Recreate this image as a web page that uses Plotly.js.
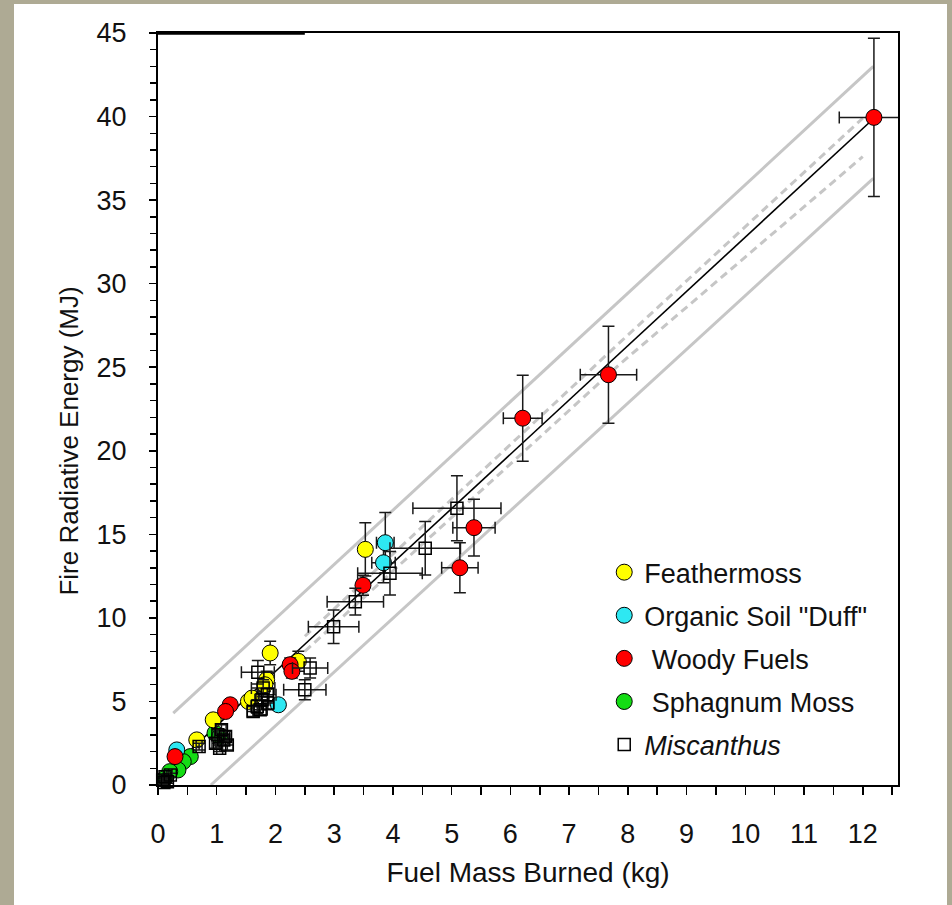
<!DOCTYPE html>
<html><head><meta charset="utf-8">
<script src="https://cdn.plot.ly/plotly-3.0.1.min.js"></script>
<style>
html,body{margin:0;padding:0;background:#aeaa94;width:952px;height:905px;overflow:hidden}
#chart{position:absolute;left:14px;top:4px;width:933px;height:901px;background:#fff}
</style></head><body><div id="chart"></div>
<script>
// ---- data (kg, MJ) ----
const featherX  = [3.53, 1.91, 2.39, 1.85, 1.82, 1.54, 1.60, 0.94, 0.66];
const featherY  = [14.1, 7.9, 7.4, 6.3, 6.0, 5.0, 5.2, 3.9, 2.7];
const featherXe = [0.05, 0.05, 0.05, 0.05, 0.05, 0.04, 0.04, 0.03, 0.03];
const featherYe = [1.6, 0.7, 0.6, 0.5, 0.4, 0.3, 0.3, 0.3, 0.2];

const duffX  = [3.87, 3.84, 2.05, 0.32];
const duffY  = [14.5, 13.3, 4.8, 2.1];
const duffXe = [0.15, 0.2, 0.05, 0.03];
const duffYe = [1.8, 1.2, 0.3, 0.2];

const woodyX  = [12.19, 7.67, 6.21, 5.38, 5.14, 3.49, 2.25, 2.28, 1.23, 1.15, 0.29];
const woodyY  = [39.95, 24.55, 21.95, 15.4, 13.0, 11.95, 7.2, 6.8, 4.8, 4.4, 1.7];
const woodyXe = [0.59, 0.48, 0.33, 0.36, 0.31, 0.1, 0.05, 0.05, 0.05, 0.05, 0.03];
const woodyYe = [4.74, 2.9, 2.57, 1.7, 1.5, 0.6, 0.4, 0.4, 0.3, 0.3, 0.2];

const sphagX  = [0.55, 0.43, 0.34, 0.20, 0.97, 1.05, 0.12];
const sphagY  = [1.7, 1.4, 0.9, 0.8, 3.1, 2.9, 0.4];
const sphagXe = [0.03, 0.03, 0.03, 0.03, 0.04, 0.04, 0.02];
const sphagYe = [0.15, 0.15, 0.1, 0.1, 0.2, 0.2, 0.1];

const miscX  = [5.09, 4.55, 3.95, 3.36, 2.99, 2.59, 2.50, 1.70, 1.79, 1.86, 1.77, 1.69, 1.62, 1.74, 1.87, 1.08, 1.02, 1.12, 1.18, 0.98, 1.05, 1.15, 0.70, 0.08, 0.12, 0.16, 0.21, 0.10];
const miscY  = [16.56, 14.17, 12.67, 10.97, 9.47, 7.0, 5.7, 6.75, 5.8, 5.4, 5.1, 4.7, 4.4, 4.5, 4.9, 3.3, 3.0, 2.7, 2.4, 2.5, 2.2, 2.9, 2.3, 0.3, 0.5, 0.2, 0.6, 0.15];
const miscXe = [0.75, 0.6, 0.55, 0.48, 0.43, 0.30, 0.36, 0.28, 0.2, 0.15, 0.12, 0.1, 0.1, 0.12, 0.1, 0.08, 0.06, 0.08, 0.1, 0.06, 0.05, 0.07, 0.05, 0.03, 0.03, 0.03, 0.03, 0.03];
const miscYe = [1.95, 1.6, 1.3, 0.8, 1.0, 0.6, 0.6, 0.7, 0.5, 0.4, 0.4, 0.4, 0.3, 0.3, 0.4, 0.3, 0.3, 0.3, 0.3, 0.3, 0.2, 0.3, 0.2, 0.1, 0.1, 0.1, 0.1, 0.1];

// regression line and bands
const fitX = [0, 12.19];
const fitY = [0.3, 39.9];
const predUpX = [0.26, 12.18];
const predUpY = [4.3, 43.0];
const predLoX = [0.9, 12.18];
const predLoY = [0.0, 36.3];
const confUpX = [2.5, 7.87, 12.0];
const confUpY = [8.9, 26.5, 39.9];
const confLoX = [2.5, 7.87, 12.0];
const confLoY = [8.0, 25.2, 37.6];

const xTicks = [0,1,2,3,4,5,6,7,8,9,10,11,12];
const yTicks = [0,5,10,15,20,25,30,35,40,45];

const legendNames = ['Feathermoss', 'Organic Soil "Duff"', '\u00a0Woody Fuels', '\u00a0Sphagnum Moss', '<i>Miscanthus</i>'];
const xTitle = 'Fuel Mass Burned (kg)';
const yTitle = 'Fire Radiative Energy (MJ)';

// ---- styling ----
const GREY = '#c6c6c6';
const regular = "'Liberation Sans', Arial, sans-serif";

function band(x, y, dash, color, width) {
  return {x: x, y: y, type: 'scatter', mode: 'lines', showlegend: false, hoverinfo: 'skip',
          line: {color: color, width: width, dash: dash}};
}
function err(arr) {
  return {type: 'data', array: arr, visible: true, color: '#1a1a1a', thickness: 1.5, width: 6};
}
function pts(name, x, y, xe, ye, marker, rank) {
  return {x: x, y: y, name: name, type: 'scatter', mode: 'markers', cliponaxis: false,
          legendgroup: 'g' + rank, legendrank: rank,
          error_x: err(xe), error_y: err(ye), marker: marker};
}
function circ(color) {
  return {symbol: 'circle', size: 16, color: color, line: {color: '#000', width: 1}};
}

const traces = [
  band(predUpX, predUpY, 'solid', GREY, 3),
  band(predLoX, predLoY, 'solid', GREY, 3),
  band(confUpX, confUpY, '8px,5px', GREY, 3),
  band(confLoX, confLoY, '8px,5px', GREY, 3),
  band(fitX, fitY, 'solid', '#000', 1.6),
  pts(legendNames[3], sphagX, sphagY, sphagXe, sphagYe, circ('#14dc14'), 4),
  pts(legendNames[1], duffX, duffY, duffXe, duffYe, circ('#2ee8f2'), 2),
  pts(legendNames[0], featherX, featherY, featherXe, featherYe, circ('#ffff00'), 1),
  pts(legendNames[2], woodyX, woodyY, woodyXe, woodyYe, circ('#ff0000'), 3),
  pts(legendNames[4], miscX, miscY, miscXe, miscYe,
      {symbol: 'square-open', size: 12, color: '#000', line: {color: '#000', width: 1.5}}, 5)
];

const layout = {
  width: 933, height: 901,
  paper_bgcolor: '#ffffff', plot_bgcolor: '#ffffff',
  margin: {l: 144, r: 49, t: 29, b: 120},
  showlegend: true,
  legend: {x: 0.603, y: 0.315, xanchor: 'left', yanchor: 'top', bgcolor: 'rgba(0,0,0,0)',
           borderwidth: 0, tracegroupgap: 5, itemwidth: 30,
           font: {family: regular, size: 27, color: '#111'}},
  xaxis: {
    range: [0, 12.6], tickmode: 'array', tickvals: xTicks, ticktext: xTicks.map(String),
    ticks: 'outside', ticklen: 8, tickwidth: 1.5, tickcolor: '#000',
    minor: {dtick: 0.5, ticks: 'outside', ticklen: 8, tickwidth: 1.5, tickcolor: '#000'},
    showline: true, linecolor: '#000', linewidth: 2, mirror: true,
    showgrid: false, zeroline: false, ticklabelstandoff: 16,
    tickfont: {family: regular, size: 27, color: '#111'},
    title: {text: xTitle, standoff: 14, font: {family: regular, size: 28, color: '#111'}}
  },
  yaxis: {
    range: [0, 45], tickmode: 'array', tickvals: yTicks, ticktext: yTicks.map(String),
    ticks: 'outside', ticklen: 7, tickwidth: 1.5, tickcolor: '#000',
    minor: {dtick: 1, ticks: 'outside', ticklen: 6, tickwidth: 1.5, tickcolor: '#000'},
    showline: true, linecolor: '#000', linewidth: 2, mirror: true,
    showgrid: false, zeroline: false, ticklabelstandoff: 17,
    tickfont: {family: regular, size: 27, color: '#111'},
    title: {text: ''}
  },
  annotations: [{text: yTitle, textangle: -90, xref: 'paper', yref: 'paper',
                 x: -0.12, y: 0.457, xanchor: 'center', yanchor: 'middle', showarrow: false,
                 font: {family: regular, size: 26, color: '#111'}}],
  shapes: [{type: 'line', xref: 'x', yref: 'y', x0: 0, x1: 2.5, y0: 45, y1: 45,
            line: {color: '#000', width: 3.5}, layer: 'above'}]
};

Plotly.newPlot('chart', traces, layout, {displayModeBar: false, staticPlot: true});
</script></body></html>
